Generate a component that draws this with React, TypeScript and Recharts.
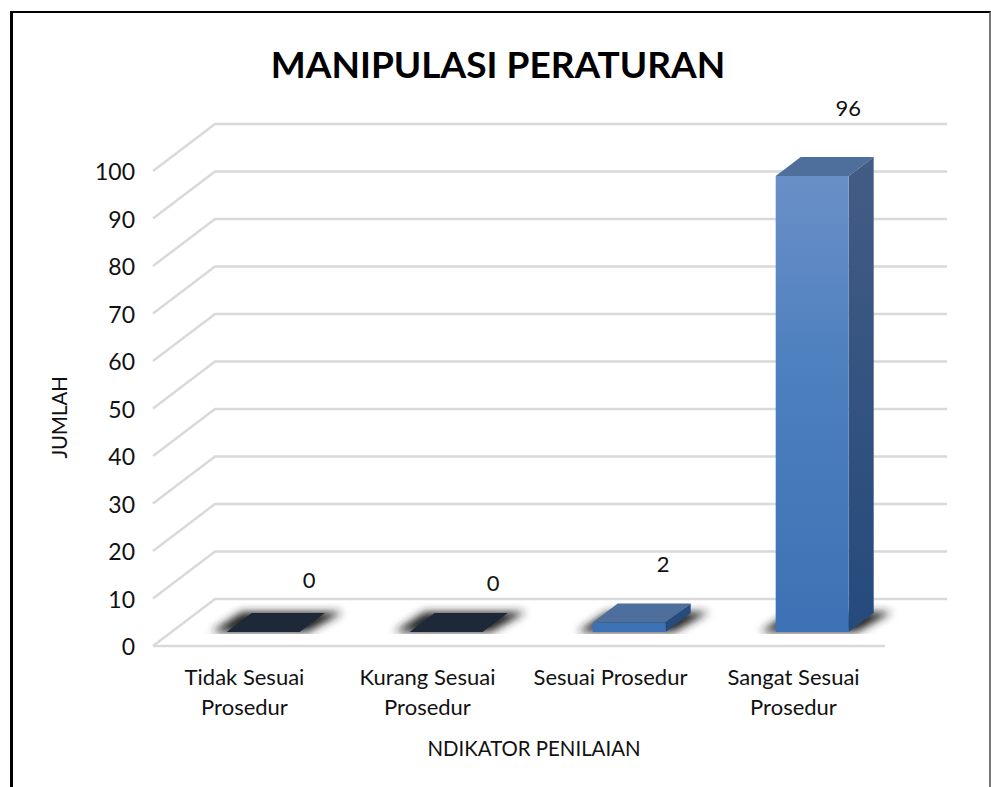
import { Bar, CartesianGrid, ComposedChart, LabelList, XAxis, YAxis } from "recharts"

const categories = ["Tidak Sesuai Prosedur", "Kurang Sesuai Prosedur", "Sesuai Prosedur", "Sangat Sesuai Prosedur"]
const categoryLines = [["Tidak Sesuai", "Prosedur"], ["Kurang Sesuai", "Prosedur"], ["Sesuai Prosedur"], ["Sangat Sesuai", "Prosedur"]]
const values = [0, 0, 2, 96]
const yTicks = [0, 10, 20, 30, 40, 50, 60, 70, 80, 90, 100]

const chartData = categories.map((name, i) => ({ name, value: values[i], lines: categoryLines[i] }))

const FONT = "Lato, 'Open Sans', sans-serif"
const INK = "#111"
const GRID = "#d9d9d9"
// the 3D look: how far the back wall sits from the front edge
const WALL_DX = 62
const WALL_DY = 47
// bars stand a bit inside the floor, and have their own depth
const BAR_DX = 18.7
const BAR_DY = 14
const DEPTH_X = 25
const DEPTH_Y = 19
// the data labels were placed by hand in the original
const labelNudge = [
  { dx: 46, dy: -50 },
  { dx: 47, dy: -47 },
  { dx: 34, dy: -56 },
  { dx: 36, dy: -66 },
]

function GridLine({ x1, x2, y1, index }: any) {
  const isFloor = index === 0 || y1 > 640
  return (
    <g fill="none" stroke={GRID} strokeWidth={2.4}>
      <polyline points={`${x1},${y1} ${x1 + WALL_DX},${y1 - WALL_DY} ${x2 + WALL_DX},${y1 - WALL_DY}`} />
      {isFloor && <line x1={x1} y1={y1} x2={x2} y2={y1} />}
    </g>
  )
}

function Bar3D({ x, y, width, height, value }: any) {
  const left = x + BAR_DX
  const right = left + width
  const top = y - BAR_DY
  const bottom = top + height
  const isEmpty = !value || height === 0
  const topFace = `${left},${top} ${left + DEPTH_X},${top - DEPTH_Y} ${right + DEPTH_X},${top - DEPTH_Y} ${right},${top}`
  const sideFace = `${right},${top} ${right + DEPTH_X},${top - DEPTH_Y} ${right + DEPTH_X},${bottom - DEPTH_Y} ${right},${bottom}`
  const shadow = `${left - 15},${bottom} ${left + DEPTH_X - 10},${bottom - DEPTH_Y - 1} ${right + DEPTH_X + 18},${bottom - DEPTH_Y - 1} ${right + 8},${bottom}`
  return (
    <g>
      <polygon points={shadow} fill="#222" filter="url(#floorShadow)" />
      {isEmpty ? (
        <polygon points={topFace} fill="#1d2838" />
      ) : (
        <>
          <polygon points={topFace} fill="#4e6e9b" />
          <polygon points={sideFace} fill="url(#sideFill)" />
          <rect x={left} y={top} width={width} height={height} fill="url(#frontFill)" />
        </>
      )}
    </g>
  )
}

function CategoryTick({ x, y, payload, index }: any) {
  const lines = chartData[index]?.lines ?? [payload.value]
  return (
    <text x={x} y={y + 19} textAnchor="middle" fontSize={22} fontFamily={FONT} fill={INK}>
      {lines.map((line: string, i: number) => (
        <tspan key={line} x={x} dy={i === 0 ? 0 : 30}>
          {line}
        </tspan>
      ))}
    </text>
  )
}

function ValueLabel({ x, y, width, value, index }: any) {
  const nudge = labelNudge[index]
  return (
    <text
      x={x + width / 2 + BAR_DX + nudge.dx}
      y={y - BAR_DY + nudge.dy}
      textAnchor="middle"
      dominantBaseline="middle"
      fontSize={22}
      fontFamily={FONT}
      fill={INK}
    >
      {value}
    </text>
  )
}

export default function App() {
  return (
    <div style={{ position: "absolute", left: 0, top: 0, width: 991, height: 787, background: "#fff", overflow: "hidden" }}>
      <div style={{ position: "absolute", left: 10, top: 11, right: 0, bottom: -5, borderLeft: "3px solid #000", borderTop: "2px solid #000", borderRight: "2px solid #777" }} />
      <ComposedChart
        width={991}
        height={787}
        data={chartData}
        margin={{ top: 171, right: 106, bottom: 0, left: 93 }}
        style={{ position: "absolute", left: 0, top: 0 }}
      >
        <defs>
          <linearGradient id="frontFill" gradientUnits="userSpaceOnUse" x1="0" y1="176" x2="0" y2="632">
            <stop offset="0" stopColor="#6a8fc7" />
            <stop offset="0.45" stopColor="#4b7fbe" />
            <stop offset="1" stopColor="#3c72b5" />
          </linearGradient>
          <linearGradient id="sideFill" gradientUnits="userSpaceOnUse" x1="0" y1="157" x2="0" y2="632">
            <stop offset="0" stopColor="#435c84" />
            <stop offset="1" stopColor="#254a7c" />
          </linearGradient>
          {/* region stops just under the bar base, so the shadow has a hard bottom edge */}
          <filter id="floorShadow" x="-30%" y="-100%" width="160%" height="206%">
            <feGaussianBlur stdDeviation="4.5" />
          </filter>
        </defs>
        <text x={498} y={69} textAnchor="middle" dominantBaseline="middle" fontSize={37} fontWeight={700} fontFamily={FONT} fill="#000">
          MANIPULASI PERATURAN
        </text>
        <CartesianGrid vertical={false} horizontal={(props: any) => <GridLine key={props.key} {...props} />} syncWithTicks />
        <XAxis
          dataKey="name"
          height={141}
          axisLine={false}
          tickLine={false}
          tick={<CategoryTick />}
          tickMargin={14}
          interval={0}
          label={{ value: "NDIKATOR PENILAIAN", position: "insideBottom", offset: 31, fontSize: 20.4, fontFamily: FONT, fill: INK, dx: 15 }}
        />
        <YAxis
          width={60}
          domain={[0, 100]}
          ticks={yTicks}
          interval={0}
          axisLine={false}
          tickLine={false}
          tickMargin={12}
          tick={{ fontSize: 23, fontFamily: FONT, fill: INK, dy: 1 }}
          label={{ value: "JUMLAH", angle: -90, position: "insideLeft", offset: -33, fontSize: 20.4, fontFamily: FONT, fill: INK, dy: 50 }}
        />
        <Bar dataKey="value" barSize={73} isAnimationActive={false} shape={<Bar3D />}>
          <LabelList dataKey="value" content={<ValueLabel />} />
        </Bar>
      </ComposedChart>
    </div>
  )
}
